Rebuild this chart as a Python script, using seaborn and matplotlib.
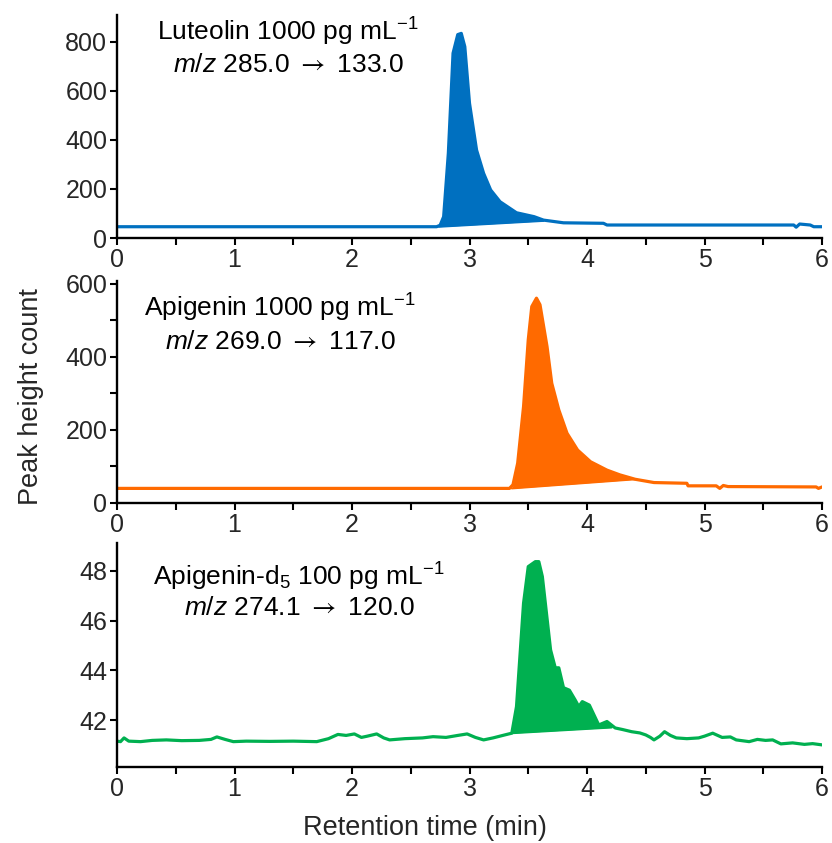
import numpy as np
import matplotlib
matplotlib.use("Agg")
import matplotlib.pyplot as plt
import seaborn as sns
from matplotlib.ticker import MultipleLocator

# ---------------- data ----------------
# Luteolin (blue)
lut_t = [0.00, 2.72, 2.75, 2.78, 2.82, 2.86, 2.90, 2.93, 2.96, 3.00, 3.06, 3.12, 3.18, 3.26,
         3.40, 3.55, 3.63, 3.80, 4.14, 4.17, 5.76, 5.78, 5.81, 5.90, 5.93, 6.00]
lut_y = [46, 46, 52, 87, 346, 754, 830, 835, 781, 550, 359, 264, 196, 148,
         103, 87, 73, 62, 60, 53, 53, 44, 57, 53, 46, 46]
lut_base_t = [2.74, 3.63]
lut_base_y = [46, 70]

# Apigenin (orange)
api_t = [0.00, 3.34, 3.37, 3.41, 3.46, 3.50, 3.53, 3.57, 3.60, 3.66, 3.70, 3.76, 3.83, 3.92,
         4.03, 4.17, 4.28, 4.41, 4.57, 4.85, 4.86, 5.10, 5.13, 5.16, 5.20, 5.95, 5.97, 6.00]
api_y = [40, 40, 50, 109, 264, 447, 538, 561, 543, 428, 328, 255, 191, 145,
         113, 90, 77, 65, 56, 54, 47, 47, 40, 48, 45, 44, 40, 44]
api_base_t = [3.36, 4.41]
api_base_y = [40, 65]

# Apigenin-d5 (green)
apd_t = [0.00, 0.03, 0.06, 0.10, 0.20, 0.30, 0.42, 0.55, 0.70, 0.80, 0.85, 0.92, 0.99,
         1.10, 1.30, 1.50, 1.70, 1.80, 1.88, 1.95, 2.02, 2.08, 2.13, 2.21, 2.27, 2.32,
         2.45, 2.60, 2.69, 2.80, 2.90, 2.98, 3.05, 3.12, 3.20, 3.30, 3.36, 3.40, 3.46,
         3.50, 3.56, 3.59, 3.62, 3.69, 3.73, 3.76, 3.80, 3.85, 3.90, 3.93, 3.96, 4.02,
         4.10, 4.17, 4.24, 4.30, 4.38, 4.45, 4.50, 4.54, 4.57, 4.62, 4.66, 4.71, 4.76,
         4.85, 4.95, 5.00, 5.07, 5.15, 5.22, 5.27, 5.38, 5.45, 5.52, 5.58, 5.65, 5.75,
         5.85, 5.92, 6.00]
apd_y = [41.15, 41.13, 41.28, 41.15, 41.13, 41.18, 41.20, 41.17, 41.18, 41.22, 41.32,
         41.22, 41.13, 41.15, 41.14, 41.15, 41.13, 41.25, 41.42, 41.38, 41.44, 41.30,
         41.35, 41.44, 41.28, 41.20, 41.25, 41.28, 41.33, 41.30, 41.38, 41.44, 41.30,
         41.20, 41.28, 41.40, 41.47, 42.54, 46.70, 48.17, 48.37, 48.37, 47.77, 44.82,
         44.10, 44.10, 43.30, 43.20, 42.80, 42.54, 42.74, 42.60, 41.80, 41.94, 41.68,
         41.62, 41.53, 41.48, 41.40, 41.30, 41.20, 41.35, 41.53, 41.38, 41.28, 41.25,
         41.28, 41.35, 41.47, 41.30, 41.32, 41.20, 41.13, 41.22, 41.18, 41.20, 41.04,
         41.08, 41.02, 41.05, 41.00]
apd_base_t = [3.36, 4.21]
apd_base_y = [41.47, 41.70]

colors = ["#0070C0", "#FF6A00", "#00B050"]
line1 = ["Luteolin 1000 pg mL$^{\u2212 1}$",
         "Apigenin 1000 pg mL$^{\u2212 1}$",
         "Apigenin-d$_5$ 100 pg mL$^{\u2212 1}$"]
line2 = ["$\\mathit{m/z}$ 285.0 $\\mathsf{\\rightarrow}$ 133.0",
         "$\\mathit{m/z}$ 269.0 $\\mathsf{\\rightarrow}$ 117.0",
         "$\\mathit{m/z}$ 274.1 $\\mathsf{\\rightarrow}$ 120.0"]
xticks = [0, 1, 2, 3, 4, 5, 6]
yticks = [[0, 200, 400, 600, 800], [0, 200, 400, 600], [42, 44, 46, 48]]
ylims = [(0, 910), (0, 608), (40.11, 49.12)]

# ---------------- style ----------------
sns.set_theme(style="ticks")
plt.rcParams['font.family'] = ['Liberation Sans', 'DejaVu Sans']
plt.rcParams['mathtext.fontset'] = 'custom'
plt.rcParams['mathtext.rm'] = 'Liberation Sans'
plt.rcParams['mathtext.it'] = 'Liberation Sans:italic'
plt.rcParams['mathtext.sf'] = 'STIXGeneral'
plt.rcParams['mathtext.default'] = 'regular'
plt.rcParams['mathtext.fallback'] = 'stixsans'

fig = plt.figure(figsize=(8.32, 8.43), dpi=100)
W, H = 832, 843
boxes = [(117, 15, 822, 238), (117, 281, 822, 503), (117, 543, 822, 767)]
text_pos = [((288 - 117) / 705, (238 - 32) / 223, (238 - 65) / 223),
            ((280 - 117) / 705, (503 - 308) / 222, (503 - 342) / 222),
            ((299 - 117) / 705, (767 - 577) / 224, (767 - 608) / 224)]

series = [(lut_t, lut_y, lut_base_t, lut_base_y),
          (api_t, api_y, api_base_t, api_base_y),
          (apd_t, apd_y, apd_base_t, apd_base_y)]

for i, (box, (t, y, bt, by)) in enumerate(zip(boxes, series)):
    x0, y0, x1, y1 = box
    ax = fig.add_axes([x0 / W, 1 - y1 / H, (x1 - x0) / W, (y1 - y0) / H])
    c = colors[i]
    sns.lineplot(x=t, y=y, ax=ax, color=c, lw=2.3, estimator=None, sort=False)
    t_arr = np.asarray(t)
    y_arr = np.asarray(y)
    m = (t_arr >= bt[0]) & (t_arr <= bt[1])
    tt = np.concatenate([[bt[0]], t_arr[m], [bt[1]]])
    yy = np.concatenate([[by[0]], y_arr[m], [np.interp(bt[1], t_arr, y_arr)]])
    base = np.interp(tt, bt, by)
    ax.fill_between(tt, base, yy, color=c, lw=0)
    ax.plot(bt, by, color=c, lw=1.5)
    ax.set_xlim(0, 6)
    ax.set_ylim(*ylims[i])
    ax.set_xticks(xticks)
    ax.set_yticks(yticks[i])
    ax.xaxis.set_minor_locator(MultipleLocator(0.5))
    if i == 1:
        ax.yaxis.set_minor_locator(MultipleLocator(100))
    sns.despine(ax=ax)
    for s in ["left", "bottom"]:
        ax.spines[s].set_linewidth(1.7)
        ax.spines[s].set_color("black")
    ax.tick_params(axis="both", which="both", direction="out", width=1.5,
                   length=5, color="black", labelsize=18, pad=2)
    ax.set_xlabel("")
    ax.set_ylabel("")
    tx, ty1, ty2 = text_pos[i]
    ax.text(tx, ty1, line1[i], transform=ax.transAxes, ha="center", va="center",
            fontsize=19, color="black")
    ax.text(tx, ty2, line2[i], transform=ax.transAxes, ha="center", va="center",
            fontsize=19, color="black")

fig.text(31 / W, 1 - 397 / H, "Peak height count", rotation=90, ha="center",
         va="center", fontsize=19.5)
fig.text(425 / W, 1 - 828 / H, "Retention time (min)", ha="center",
         va="center", fontsize=19.5)

fig.savefig("out.png", dpi=100)
